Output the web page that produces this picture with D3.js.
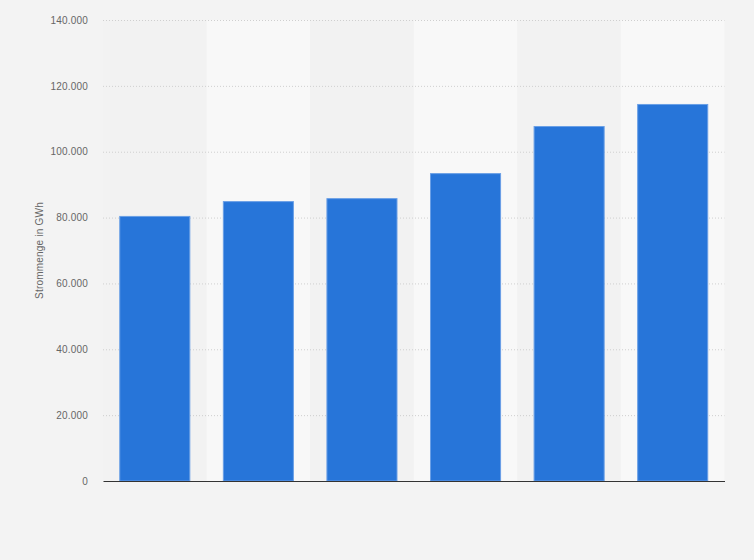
<!DOCTYPE html>
<html>
<head>
<meta charset="utf-8">
<script src="https://cdn.jsdelivr.net/npm/d3@7/dist/d3.min.js"></script>
<style>
  html, body { margin: 0; padding: 0; background: #f3f3f3; }
  svg { display: block; }
  text { font-family: "Liberation Sans", Arial, sans-serif; }
</style>
</head>
<body>
<svg id="chart" width="754" height="560"></svg>
<script>
const categories = ["1", "2", "3", "4", "5", "6"];
const values = [80500, 85000, 85900, 93500, 107800, 114500];
const yTicks = [0, 20000, 40000, 60000, 80000, 100000, 120000, 140000];
const yLabel = "Strommenge in GWh";

const W = 754, H = 560;
const m = { left: 103, right: 29.5, top: 20, bottom: 79 };
const svg = d3.select("#chart");
svg.append("rect").attr("width", W).attr("height", H).attr("fill", "#f3f3f3");

const x = d3.scaleBand().domain(categories).range([m.left, W - m.right]).padding(0);
const y = d3.scaleLinear().domain([0, 140000]).range([H - m.bottom, m.top]);

// alternating bands
svg.append("g").selectAll("rect").data(categories).join("rect")
  .attr("x", d => x(d)).attr("y", m.top)
  .attr("width", x.bandwidth()).attr("height", y(0) - m.top)
  .attr("fill", (d, i) => i % 2 === 1 ? "#f8f8f8" : "#f2f2f2");

// grid lines
const fmt = d => d3.format(",")(d).replace(/,/g, ".");
const yAxis = d3.axisLeft(y).tickValues(yTicks).tickSize(0).tickPadding(15).tickFormat(fmt);
const gy = svg.append("g").attr("transform", `translate(${m.left},0)`).call(yAxis);
gy.select(".domain").remove();
gy.selectAll("text").attr("fill", "#666").attr("font-size", "10px").attr("letter-spacing", "0.2px");
gy.selectAll(".tick").append("line")
  .attr("x1", 0).attr("x2", W - m.right - m.left)
  .attr("stroke", d => d === 0 ? "none" : "#cfcfcf")
  .attr("stroke-width", 1)
  .attr("stroke-dasharray", "1,2");

// bars
const inner = 0.157;
svg.append("g").selectAll("rect").data(values).join("rect")
  .attr("x", (d, i) => x(categories[i]) + x.bandwidth() * inner + 0.5)
  .attr("y", d => y(d) + 0.5)
  .attr("width", x.bandwidth() * (1 - 2 * inner) - 1)
  .attr("height", d => y(0) - y(d) - 0.5)
  .attr("fill", "#2775d9")
  .attr("stroke", "#6a9fe6")
  .attr("stroke-width", 1);

// x axis line (no labels)
const xAxis = d3.axisBottom(x).tickSize(0).tickFormat(() => "");
const gx = svg.append("g").attr("transform", `translate(0,${y(0)})`).call(xAxis);
gx.select(".domain").attr("stroke", "#333").attr("stroke-width", 1.2);

// y label
svg.append("text")
  .attr("transform", `translate(43,${(m.top + y(0)) / 2}) rotate(-90)`)
  .attr("text-anchor", "middle")
  .attr("fill", "#666").attr("font-size", "10px").attr("letter-spacing", "0.2px")
  .text(yLabel);
</script>
</body>
</html>
